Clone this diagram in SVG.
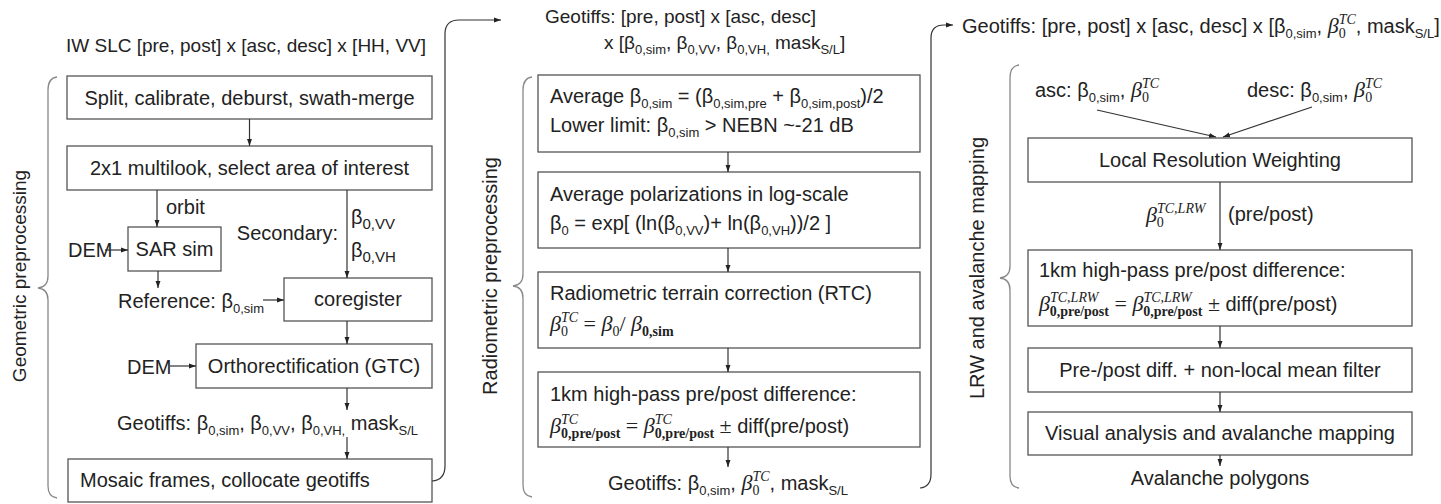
<svg xmlns="http://www.w3.org/2000/svg" width="1441" height="504" viewBox="0 0 1441 504">
<defs>
<style>
.t{font-family:"Liberation Sans",Arial,sans-serif;font-size:20px;fill:#222}
.ti{font-size:19px}
.rl{font-size:19px}
.s{font-size:13px}
.sv{font-size:15px}
.mi{font-family:"Liberation Serif","Times New Roman",serif;font-style:italic;font-size:22px}
.mr{font-family:"Liberation Serif","Times New Roman",serif;font-size:22px}
.sp{font-family:"Liberation Serif","Times New Roman",serif;font-style:italic;font-size:14px}
.sr{font-family:"Liberation Serif","Times New Roman",serif;font-size:14px}
.sb{font-family:"Liberation Serif","Times New Roman",serif;font-weight:bold;font-size:14px}
.box{fill:#fff;stroke:#555;stroke-width:1.3}
.ln{fill:none;stroke:#333;stroke-width:1.2}
.br{fill:none;stroke:#888;stroke-width:1.3}
.c{text-anchor:middle}
</style>
<marker id="ah" viewBox="0 0 10 10" refX="10" refY="5" markerWidth="7" markerHeight="7" orient="auto" markerUnits="userSpaceOnUse">
<path d="M0,1.5 L10,5 L0,8.5 z" fill="#222"/>
</marker>
</defs>
<rect width="1441" height="504" fill="#fff"/>

<!-- LEFT COLUMN -->
<g id="left-title"><text class="t ti c" x="246" y="52">IW SLC [pre, post] x [asc, desc] x [HH, VV]</text></g>
<g id="left-brace">
<path class="br" d="M57,77 Q48,78 48,90 L48,276 Q48,287 38,288 Q48,289 48,300 L48,486 Q48,497 57,498"/>
<text class="t rl c" transform="translate(26,276) rotate(-90)">Geometric preprocessing</text>
</g>
<g id="n-split"><rect class="box" x="67" y="76" width="365" height="43"/><text class="t c" x="249.5" y="105">Split, calibrate, deburst, swath-merge</text></g>
<g id="n-multilook"><rect class="box" x="67" y="146" width="365" height="44"/><text class="t c" x="249.5" y="175">2x1 multilook, select area of interest</text></g>
<g id="n-sarsim"><rect class="box" x="128" y="227" width="93" height="44"/><text class="t c" x="174.5" y="256">SAR sim</text></g>
<g id="n-coreg"><rect class="box" x="284" y="278" width="148" height="43"/><text class="t c" x="358" y="306">coregister</text></g>
<g id="n-ortho"><rect class="box" x="196" y="344" width="236" height="44"/><text class="t c" x="314" y="373">Orthorectification (GTC)</text></g>
<g id="n-mosaic"><rect class="box" x="68" y="459" width="364" height="43"/><text class="t" x="80" y="487">Mosaic frames, collocate geotiffs</text></g>
<g id="left-labels">
<text class="t" x="166" y="214">orbit</text>
<text class="t" x="68" y="257">DEM</text>
<text class="t" x="338" y="240" text-anchor="end">Secondary:</text>
<text class="t" x="351" y="224" font-size="24">β<tspan class="sv" dy="5">0,VV</tspan></text>
<text class="t" x="351" y="257" font-size="24">β<tspan class="sv" dy="5">0,VH</tspan></text>
<text class="t" x="118" y="308">Reference: β<tspan class="s" dy="5">0,sim</tspan></text>
<text class="t" x="127" y="374">DEM</text>
<text class="t" x="117" y="430">Geotiffs: β<tspan class="s" dy="5">0,sim</tspan><tspan dy="-5">, β</tspan><tspan class="s" dy="5">0,VV</tspan><tspan dy="-5">, β</tspan><tspan class="s" dy="5">0,VH,</tspan><tspan dy="-5"> mask</tspan><tspan class="s" dy="5">S/L</tspan></text>
</g>

<!-- MIDDLE COLUMN -->
<g id="mid-title">
<text class="t ti" x="545" y="23">Geotiffs: [pre, post] x [asc, desc]</text>
<text class="t ti" x="604" y="49">x [β<tspan class="s" dy="5">0,sim</tspan><tspan dy="-5">, β</tspan><tspan class="s" dy="5">0,VV</tspan><tspan dy="-5">, β</tspan><tspan class="s" dy="5">0,VH,</tspan><tspan dy="-5"> mask</tspan><tspan class="s" dy="5">S/L</tspan><tspan dy="-5">]</tspan></text>
</g>
<g id="mid-brace">
<path class="br" d="M532,77 Q523,78 523,90 L523,274 Q523,285 513,286 Q523,287 523,298 L523,485 Q523,496 532,497"/>
<text class="t c" font-size="18.5" transform="translate(497,276) rotate(-90)">Radiometric preprocessing</text>
</g>
<g id="n-avgsim"><rect class="box" x="538" y="75" width="382" height="77"/>
<text class="t" x="550" y="103">Average β<tspan class="s" dy="5">0,sim</tspan><tspan dy="-5"> = (β</tspan><tspan class="s" dy="5">0,sim,pre</tspan><tspan dy="-5"> + β</tspan><tspan class="s" dy="5">0,sim,post</tspan><tspan dy="-5">)/2</tspan></text>
<text class="t" x="550" y="132">Lower limit: β<tspan class="s" dy="5">0,sim</tspan><tspan dy="-5"> &gt; NEBN ~-21 dB</tspan></text>
</g>
<g id="n-avgpol"><rect class="box" x="538" y="172" width="382" height="76"/>
<text class="t" x="550" y="201">Average polarizations in log-scale</text>
<text class="t" x="550" y="230">β<tspan class="s" dy="5">0</tspan><tspan dy="-5"> = exp[ (ln(β</tspan><tspan class="s" dy="5">0,VV</tspan><tspan dy="-5">)+ ln(β</tspan><tspan class="s" dy="5">0,VH</tspan><tspan dy="-5">))/2 ]</tspan></text>
</g>
<g id="n-rtc"><rect class="box" x="538" y="272" width="382" height="76"/>
<text class="t" x="550" y="300">Radiometric terrain correction (RTC)</text>
<text class="t" x="550" y="331"><tspan class="mi">β</tspan><tspan class="sp" dy="-9">TC</tspan><tspan class="sr" dx="-17" dy="14">0</tspan><tspan class="mr" dx="10" dy="-5"> = </tspan><tspan class="mi">β</tspan><tspan class="sr" dy="5">0</tspan><tspan class="mr" dy="-5">/ </tspan><tspan class="mi">β</tspan><tspan class="sb" dy="5">0,sim</tspan></text>
</g>
<g id="n-hp-mid"><rect class="box" x="538" y="372" width="382" height="75"/>
<text class="t" x="550" y="401">1km high-pass pre/post difference:</text>
<text class="t" x="550" y="433"><tspan class="mi">β</tspan><tspan class="sp" dy="-9">TC</tspan><tspan class="sb" dx="-17" dy="14">0,pre/post</tspan><tspan class="mr" dy="-5"> = </tspan><tspan class="mi">β</tspan><tspan class="sp" dy="-9">TC</tspan><tspan class="sb" dx="-17" dy="14">0,pre/post</tspan><tspan class="mr" dy="-5"> ± </tspan><tspan>diff(pre/post)</tspan></text>
</g>
<g id="mid-out">
<text class="t c" x="728" y="490">Geotiffs: β<tspan class="s" dy="5">0,sim</tspan><tspan dy="-5">, </tspan><tspan class="mi">β</tspan><tspan class="sp" dy="-9">TC</tspan><tspan class="sr" dx="-17" dy="14">0</tspan><tspan dx="10" dy="-5">, mask</tspan><tspan class="s" dy="5">S/L</tspan></text>
</g>

<!-- RIGHT COLUMN -->
<g id="right-title">
<text class="t" x="962" y="33">Geotiffs: [pre, post] x [asc, desc] x [β<tspan class="s" dy="5">0,sim</tspan><tspan dy="-5">, </tspan><tspan class="mi">β</tspan><tspan class="sp" dy="-9">TC</tspan><tspan class="sr" dx="-17" dy="14">0</tspan><tspan dx="10" dy="-5">, mask</tspan><tspan class="s" dy="5">S/L</tspan><tspan dy="-5">]</tspan></text>
</g>
<g id="right-brace">
<path class="br" d="M1019,65 Q1010,66 1010,78 L1010,266 Q1010,277 1000,278 Q1010,279 1010,290 L1010,476 Q1010,487 1019,488"/>
<text class="t c" font-size="17.5" transform="translate(984,268) rotate(-90)">LRW and avalanche mapping</text>
</g>
<g id="right-inputs">
<text class="t" x="1035" y="97">asc: β<tspan class="s" dy="5">0,sim</tspan><tspan dy="-5">, </tspan><tspan class="mi">β</tspan><tspan class="sp" dy="-9">TC</tspan><tspan class="sr" dx="-17" dy="14">0</tspan></text>
<text class="t" x="1247" y="97">desc: β<tspan class="s" dy="5">0,sim</tspan><tspan dy="-5">, </tspan><tspan class="mi">β</tspan><tspan class="sp" dy="-9">TC</tspan><tspan class="sr" dx="-17" dy="14">0</tspan></text>
</g>
<g id="n-lrw"><rect class="box" x="1028" y="138" width="384" height="44"/><text class="t c" x="1220" y="167">Local Resolution Weighting</text></g>
<g id="right-lrwlabel">
<text class="t" x="1146" y="222"><tspan class="mi">β</tspan><tspan class="sp" dy="-9">TC,LRW</tspan><tspan class="sr" dx="-48.6" dy="14">0</tspan></text>
<text class="t" x="1228" y="221">(pre/post)</text>
</g>
<g id="n-hp-right"><rect class="box" x="1028" y="250" width="384" height="76"/>
<text class="t" x="1039" y="277">1km high-pass pre/post difference:</text>
<text class="t" x="1039" y="311"><tspan class="mi">β</tspan><tspan class="sp" dy="-9">TC,LRW</tspan><tspan class="sb" dx="-48.6" dy="14">0,pre/post</tspan><tspan class="mr" dy="-5"> = </tspan><tspan class="mi">β</tspan><tspan class="sp" dy="-9">TC,LRW</tspan><tspan class="sb" dx="-48.6" dy="14">0,pre/post</tspan><tspan class="mr" dy="-5"> ± </tspan><tspan>diff(pre/post)</tspan></text>
</g>
<g id="n-nlm"><rect class="box" x="1028" y="348" width="384" height="44"/><text class="t c" x="1220" y="377">Pre-/post diff. + non-local mean filter</text></g>
<g id="n-visual"><rect class="box" x="1028" y="412" width="384" height="43"/><text class="t c" x="1220" y="440">Visual analysis and avalanche mapping</text></g>
<g id="right-out"><text class="t c" x="1220" y="485">Avalanche polygons</text></g>

<!-- CONNECTORS -->
<g id="connectors" class="ln" marker-end="url(#ah)">
<line x1="249.5" y1="119" x2="249.5" y2="146"/>
<line x1="157" y1="190" x2="157" y2="227"/>
<line x1="105" y1="250" x2="128" y2="250"/>
<line x1="347" y1="190" x2="347" y2="278"/>
<line x1="158" y1="271" x2="158" y2="288"/>
<line x1="263" y1="300" x2="284" y2="300"/>
<line x1="347" y1="321" x2="347" y2="344"/>
<line x1="170" y1="366" x2="196" y2="366"/>
<line x1="347" y1="388" x2="347" y2="410"/>
<line x1="347" y1="437" x2="347" y2="459"/>
<path d="M432,481 Q445,480 445,466 L445,34 Q445,20 459,20 L501,20"/>
<line x1="728" y1="152" x2="728" y2="172"/>
<line x1="728" y1="248" x2="728" y2="272"/>
<line x1="728" y1="348" x2="728" y2="372"/>
<line x1="728" y1="447" x2="728" y2="467"/>
<path d="M920,488 Q931,487 931,474 L931,38 Q931,25 944,25 L953,25"/>
<line x1="1097" y1="110" x2="1216" y2="137"/>
<line x1="1312" y1="107" x2="1223" y2="137"/>
<line x1="1220" y1="182" x2="1220" y2="250"/>
<line x1="1220" y1="326" x2="1220" y2="348"/>
<line x1="1220" y1="392" x2="1220" y2="412"/>
<line x1="1220" y1="455" x2="1220" y2="466"/>
</g>
</svg>
